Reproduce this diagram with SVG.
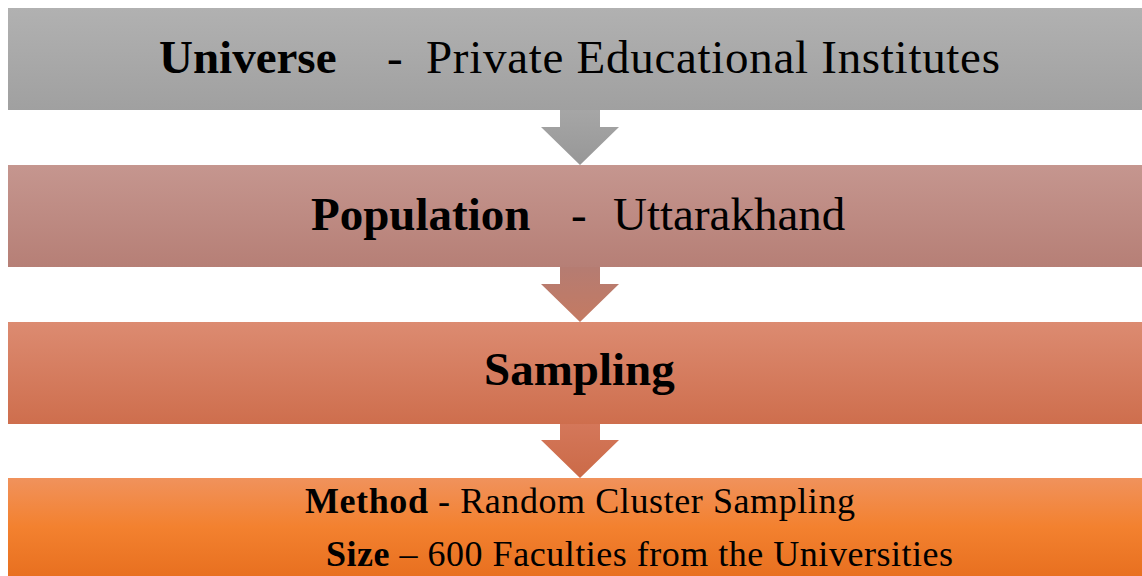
<svg xmlns="http://www.w3.org/2000/svg" width="1142" height="576" viewBox="0 0 1142 576">
<style>
text{font-family:"Liberation Serif","Times New Roman",serif;fill:#000}
.h{font-size:47px}
.b{font-weight:bold}
.s{font-size:36px}
</style>
<defs>
<linearGradient id="g1" x1="0" y1="0" x2="0" y2="1"><stop offset="0" stop-color="#b1b1b1"/><stop offset="1" stop-color="#a0a0a0"/></linearGradient>
<linearGradient id="g2" x1="0" y1="0" x2="0" y2="1"><stop offset="0" stop-color="#c5968f"/><stop offset="1" stop-color="#b67f76"/></linearGradient>
<linearGradient id="g3" x1="0" y1="0" x2="0" y2="1"><stop offset="0" stop-color="#dc8b71"/><stop offset="1" stop-color="#ce6e4d"/></linearGradient>
<linearGradient id="g4" x1="0" y1="0" x2="0" y2="1"><stop offset="0" stop-color="#f0925c"/><stop offset="0.5" stop-color="#f3812f"/><stop offset="1" stop-color="#e87020"/></linearGradient>
<linearGradient id="a1" x1="0" y1="0" x2="0" y2="1"><stop offset="0" stop-color="#a6a6a6"/><stop offset="1" stop-color="#979797"/></linearGradient>
<linearGradient id="a2" x1="0" y1="0" x2="0" y2="1"><stop offset="0" stop-color="#b57c72"/><stop offset="1" stop-color="#c47a62"/></linearGradient>
<linearGradient id="a3" x1="0" y1="0" x2="0" y2="1"><stop offset="0" stop-color="#d4775a"/><stop offset="1" stop-color="#cb6a47"/></linearGradient>
</defs>
<g id="connectors">
<polygon points="560,110 600,110 600,127 619,127 580,165 541,127 560,127" fill="url(#a1)"/>
<polygon points="560,267 600,267 600,284 619,284 580,322 541,284 560,284" fill="url(#a2)"/>
<polygon points="560,424 600,424 600,440 619,440 580,478 541,440 560,440" fill="url(#a3)"/>
</g>
<g id="universe">
<rect x="8" y="8" width="1134" height="102" fill="url(#g1)"/>
<text class="h b" x="159" y="73">Universe</text>
<text class="h" x="387" y="73">-</text>
<text class="h" x="426" y="73" textLength="574">Private  Educational Institutes</text>
</g>
<g id="population">
<rect x="8" y="165" width="1134" height="102" fill="url(#g2)"/>
<text class="h b" x="311" y="230">Population</text>
<text class="h" x="571" y="230">-</text>
<text class="h" x="613" y="230">Uttarakhand</text>
</g>
<g id="sampling">
<rect x="8" y="322" width="1134" height="102" fill="url(#g3)"/>
<text class="h b" x="484" y="385">Sampling</text>
</g>
<g id="method">
<rect x="8" y="478" width="1134" height="98" fill="url(#g4)"/>
<text class="s" x="305" y="513" textLength="550"><tspan class="b">Method</tspan> - Random Cluster Sampling</text>
<text class="s" x="326" y="566" textLength="627"><tspan class="b">Size</tspan> – 600 Faculties from the Universities</text>
</g>
</svg>
